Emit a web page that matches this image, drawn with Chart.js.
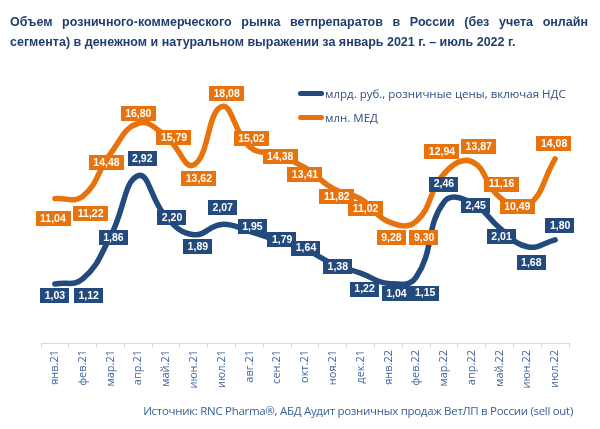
<!DOCTYPE html>
<html>
<head>
<meta charset="utf-8">
<script src="https://cdn.jsdelivr.net/npm/chart.js@4"></script>
<style>
    html, body { margin: 0; padding: 0; background: #fff; }
    #wrap { position: relative; width: 600px; height: 429px; overflow: hidden; }
    #chart { position: absolute; left: 0; top: 0; }
    #title {
        position: absolute; left: 10px; top: 12px; width: 578px;
        font: bold 12.5px "Liberation Sans", Arial, sans-serif;
        color: #1F3E6E; line-height: 20px;
        text-align: justify; text-align-last: left;
    }
    #source {
        position: absolute; right: 27px; top: 403px;
        font: 11.5px "Open Sans", "Liberation Sans", sans-serif;
        color: #3A5F94; letter-spacing: -0.3px;
    }
    .leg { position: absolute; left: 298px; font: 11.5px "Open Sans", "Liberation Sans", sans-serif; color: #2F4F7F; }
    .leg i { display: inline-block; width: 26px; height: 5px; border-radius: 3px; vertical-align: middle; margin-right: 1px; position: relative; top: -1px; }
</style>
</head>
<body>
<div id="wrap">
    <canvas id="chart" width="600" height="429"></canvas>
    <div id="title">Объем розничного-коммерческого рынка ветпрепаратов в России (без учета онлайн сегмента) в денежном и натуральном выражении за январь 2021 г. – июль 2022 г.</div>
    <div class="leg" style="top:86px"><i style="background:#234A7C"></i>млрд. руб., розничные цены, включая НДС</div>
    <div class="leg" style="top:110px"><i style="background:#E8720C"></i>млн. МЕД</div>
    <div id="source">Источник: RNC Pharma®, АБД Аудит розничных продаж ВетЛП в России (sell out)</div>
</div>
<script>
// =====================
// Data
// =====================
const months = ['янв.21', 'фев.21', 'мар.21', 'апр.21', 'май.21', 'июн.21', 'июл.21', 'авг.21', 'сен.21',
    'окт.21', 'ноя.21', 'дек.21', 'янв.22', 'фев.22', 'мар.22', 'апр.22', 'май.22', 'июн.22', 'июл.22'];
const rubValues = [1.03, 1.12, 1.86, 2.92, 2.20, 1.89, 2.07, 1.95, 1.79, 1.64, 1.38, 1.22, 1.04, 1.15, 2.46, 2.45, 2.01, 1.68, 1.80];
const medValues = [11.04, 11.22, 14.48, 16.80, 15.79, 13.62, 18.08, 15.02, 14.38, 13.41, 11.82, 11.02, 9.28, 9.30, 12.94, 13.87, 11.16, 10.49, 14.08];

// Label box offsets from each point (px) - styling only
const rubLabelOffsets = [[0, 12], [6, 17], [3, 1], [4, -17], [6, 1], [4, 12], [1, -17], [3, -5], [5, -1], [1, -1],
    [5, 3], [4, 16], [8, 10], [9, 16], [0, -18], [4, 3], [2, 9], [4, 16], [5, -14]];
const medLabelOffsets = [[-2, 20], [8, 17], [-4, 9], [0, -10], [8, 1], [5, 14], [5, -13], [2, -8], [3, 2], [0, 7],
    [4, 8], [5, 10], [3, 16], [8, 16], [-2, -22], [7, -15], [2, -13], [-10, 1], [-1, -15]];

const BLUE = '#234A7C';
const ORANGE = '#E8720C';

// =====================
// Label boxes plugin
// =====================
const boxLabels = {
    id: 'boxLabels',
    afterDatasetsDraw(chart) {
        const ctx = chart.ctx;
        ctx.save();
        ctx.font = 'bold 10.5px "Liberation Sans", Arial, sans-serif';
        ctx.textAlign = 'center';
        ctx.textBaseline = 'middle';
        chart.data.datasets.forEach((ds, di) => {
            const meta = chart.getDatasetMeta(di);
            meta.data.forEach((pt, i) => {
                const txt = ds.data[i].toFixed(2).replace('.', ',');
                const off = ds.labelOffsets[i];
                const cx = pt.x + off[0], cy = pt.y + off[1];
                const w = ctx.measureText(txt).width + 9, h = 15;
                ctx.fillStyle = ds.borderColor;
                ctx.fillRect(Math.round(cx - w / 2), Math.round(cy - h / 2), Math.round(w), h);
                ctx.fillStyle = '#fff';
                ctx.fillText(txt, cx, cy + 0.5);
            });
        });
        ctx.restore();
    }
};

// =====================
// Chart
// =====================
new Chart(document.getElementById('chart'), {
    type: 'line',
    data: {
        labels: months,
        datasets: [
            { data: medValues, yAxisID: 'yMed', borderColor: ORANGE, borderWidth: 5.5, tension: 0.45,
              pointRadius: 0, borderCapStyle: 'round', labelOffsets: medLabelOffsets },
            { data: rubValues, yAxisID: 'yRub', borderColor: BLUE, borderWidth: 5.5, tension: 0.45,
              pointRadius: 0, borderCapStyle: 'round', labelOffsets: rubLabelOffsets }
        ]
    },
    options: {
        responsive: false,
        animation: false,
        layout: { padding: { top: 88, left: 41, right: 31, bottom: 0 } },
        plugins: { legend: { display: false }, tooltip: { enabled: false } },
        scales: {
            x: {
                offset: true,
                grid: { offset: true, drawOnChartArea: false, color: '#D9D9D9', tickLength: 5 },
                border: { color: '#D9D9D9' },
                ticks: {
                    minRotation: 90, maxRotation: 90, color: '#3E64A0', padding: 2,
                    font: { family: '"Open Sans", "Liberation Sans", sans-serif', size: 11 }
                },
                afterFit(scale) { scale.height = 86; }
            },
            yRub: { display: false, min: 0, max: 4.45 },
            yMed: { display: false, min: 0, max: 19.5 }
        }
    },
    plugins: [boxLabels]
});
</script>
</body>
</html>
